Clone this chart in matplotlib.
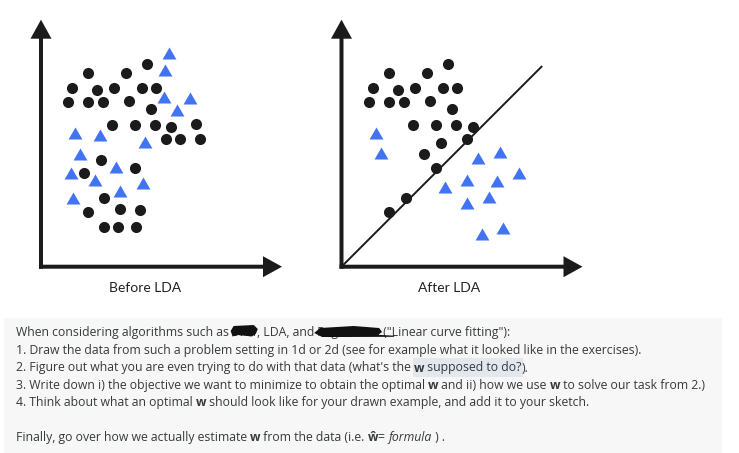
import matplotlib
matplotlib.use("Agg")
import matplotlib.pyplot as plt
from matplotlib.patches import Rectangle, Polygon

# Punkte vor LDA (Pixel relativ zum Achsenursprung)
before_circles_x = [106, 47, 84.7, 31, 56, 72.7, 101, 115, 27, 47, 61.7, 88.3, 110, 71, 93.7, 113.7,
                    130.3, 155.3, 125, 139.3, 159.3, 60, 94.3, 42.7, 63.3, 47, 79.3, 99.3, 63.3, 77, 95.3]
before_circles_y = [202.3, 194, 194, 179, 176.7, 178.3, 178.3, 178.3, 165, 165, 165, 165.7, 157.3, 141.7,
                    141.7, 141.7, 140, 142.7, 127.7, 127.7, 127.7, 106.7, 99, 94, 69, 55, 57.7, 56.7, 39.3, 39.3, 40]
before_tri_x = [128.3, 123.7, 122.7, 148.7, 136, 33.7, 58.7, 103.7, 38.7, 75.3, 30, 54.3, 101.7, 79.3, 32]
before_tri_y = [214, 196.7, 170, 168.3, 156.7, 133.3, 131.7, 125, 112.7, 100, 93.3, 86.7, 83.3, 75.7, 69]

# Punkte nach LDA
after_circles_x = [106.7, 47.3, 85, 31, 56.7, 73.3, 101.7, 115.7, 27.7, 47.7, 62.3, 88.3, 110.7, 71.7,
                   94, 114, 131, 125.7, 99.3, 82.3, 94.3, 64, 47.7]
after_circles_y = [202.3, 194, 194, 179, 176.7, 178.3, 178.3, 178.3, 165, 165, 165, 165.7, 157.3, 141.7,
                   141.7, 141.7, 140, 127.7, 124, 112.3, 99, 69, 55]
after_tri_x = [34.3, 39.3, 136.7, 158.3, 177.7, 103.3, 125, 155, 147.3, 125, 140, 161]
after_tri_y = [133.3, 113.3, 108.3, 115, 93.3, 80, 86.7, 86, 70, 63.3, 32.7, 38.3]

# Trennlinie
line_x = [0, 200]
line_y = [0, 200]

panel_titles = ["Before LDA", "After LDA"]

text_lines = [
    [("When considering algorithms such as ", "n"), ("SVM", "n"), (", LDA, and", "n"),
     (" Regression", "n"), (" (\"Linear curve fitting\"):", "n")],
    [("1. Draw the data from such a problem setting in 1d or 2d (see for example what it looked like in the exercises).", "n")],
    [("2. Figure out what you are even trying to do with that data (what's the ", "n"), ("w", "b"),
     (" supposed to do?", "n"), (").", "n")],
    [("3. Write down i) the objective we want to minimize to obtain the optimal ", "n"), ("w", "b"),
     (" and ii) how we use ", "n"), ("w", "b"), (" to solve our task from 2.)", "n")],
    [("4. Think about what an optimal ", "n"), ("w", "b"),
     (" should look like for your drawn example, and add it to your sketch.", "n")],
    [("Finally, go over how we actually estimate ", "n"), ("w", "b"), (" from the data (i.e. ", "n"),
     ("ŵ", "b"), ("= ", "n"), ("formula", "i"), (" ) .", "n")],
]
line_baselines = [336, 354, 371.5, 389, 406.3, 440.7]

W, H = 739, 453
fig = plt.figure(figsize=(W / 100, H / 100), dpi=100)
fig.patch.set_facecolor("white")

dark = "#1b1b1b"
blue = "#4173f2"
tri = [(-1, -0.866), (1, -0.866), (0, 0.866)]


def make_panel(ox, oy, title, label_x):
    left, right, top, bottom = ox - 25, ox + 255, 10, 300
    ax = fig.add_axes([left / W, 1 - bottom / H, (right - left) / W, (bottom - top) / H])
    ax.set_xlim(left - ox, right - ox)
    ax.set_ylim(oy - bottom, oy - top)
    ax.axis("off")
    ax.arrow(-2, 0, 243, 0, width=4, head_width=21, head_length=19,
             length_includes_head=True, color=dark, lw=0)
    ax.arrow(0, -2, 0, 249, width=4, head_width=21, head_length=19,
             length_includes_head=True, color=dark, lw=0)
    ax.text(label_x, -21.5, title, ha="center", va="center",
            fontsize=10, family="Lato", color="#222222")
    return ax


ax1 = make_panel(41, 266.7, panel_titles[0], 104)
ax1.scatter(before_circles_x, before_circles_y, s=64, color=dark, linewidths=0, zorder=3)
ax1.scatter(before_tri_x, before_tri_y, s=100, marker=tri, color=blue, linewidths=0, zorder=3)

ax2 = make_panel(341.5, 266.7, panel_titles[1], 108)
ax2.plot(line_x, line_y, color=dark, lw=1.4, zorder=2)
ax2.scatter(after_circles_x, after_circles_y, s=64, color=dark, linewidths=0, zorder=3)
ax2.scatter(after_tri_x, after_tri_y, s=100, marker=tri, color=blue, linewidths=0, zorder=3)

# Textbereich
tax = fig.add_axes([0, 0, 1, 1])
tax.set_xlim(0, W)
tax.set_ylim(H, 0)
tax.axis("off")
tax.add_patch(Rectangle((4, 318), 718, 140, color="#f7f7f7", lw=0, zorder=0))

fig.canvas.draw()
renderer = fig.canvas.get_renderer()
txt_color = "#373a3c"
fs = 8.85


def props(style):
    return dict(fontsize=fs, family="Open Sans", color=txt_color,
                fontweight="bold" if style == "b" else "normal",
                fontstyle="italic" if style == "i" else "normal")


def advance(s, style):
    # Breite inkl. Leerzeichen am Ende
    a = tax.text(0, 0, s + "l", **props(style))
    b = tax.text(0, 0, "l", **props(style))
    w = a.get_window_extent(renderer).width - b.get_window_extent(renderer).width
    a.remove()
    b.remove()
    return w


spans = {}
for i, (pieces, base) in enumerate(zip(text_lines, line_baselines)):
    x = 15.5
    for j, (s, style) in enumerate(pieces):
        tax.text(x, base, s, va="baseline", ha="left", zorder=2, **props(style))
        w = advance(s, style)
        spans[(i, j)] = (x, x + w)
        x += w

# Markierung hinter "w supposed to do?"
hx0 = spans[(2, 1)][0] - 1
hx1 = spans[(2, 2)][1] + 1
tax.add_patch(Rectangle((hx0, 358), hx1 - hx0, 18.5, color="#e3e8ef", lw=0, zorder=1))

# geschwärzte Wörter
b0 = line_baselines[0]
sx0, sx1 = spans[(0, 1)]
tax.add_patch(Polygon([(sx0 - 1, b0 - 5), (sx0 + 2, b0 - 10), (sx1 - 3, b0 - 11), (sx1 + 1, b0 - 7),
                       (sx1 - 1, b0 - 2), (sx1 - 5, b0 + 0.5), (sx0 + 6, b0 - 1), (sx0 + 1, b0 + 0.5)],
                      closed=True, color="#111111", lw=0, zorder=3))
rx0, rx1 = spans[(0, 3)]
rw = rx1 - rx0
tax.add_patch(Polygon([(rx0, b0 - 3), (rx0 + 6, b0 - 8), (rx0 + 0.6 * rw, b0 - 10), (rx1 - 1, b0 - 8),
                       (rx1 + 2, b0 - 4), (rx1 - 2, b0 - 1.2), (rx1 + 14, b0 - 0.3), (rx1 + 14, b0 + 0.8),
                       (rx0 + 0.5 * rw, b0 + 1), (rx0 + 8, b0 + 1)],
                      closed=True, color="#111111", lw=0, zorder=3))

fig.savefig("out.png", dpi=100, facecolor="white")
